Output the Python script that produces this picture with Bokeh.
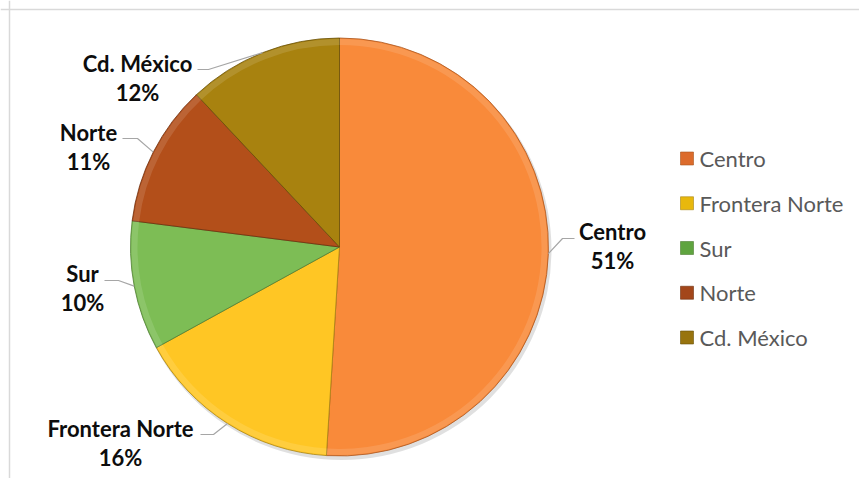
import math
from bokeh.plotting import figure
from bokeh.models import Range1d, Span
from bokeh.core.properties import value
from bokeh.embed import file_html
from bokeh.resources import INLINE

# ---- data ----
categories = ["Centro", "Frontera Norte", "Sur", "Norte", "Cd. México"]
shares = [51, 16, 10, 11, 12]
pct_labels = ["51%", "16%", "10%", "11%", "12%"]

# ---- styles ----
colors = ["#F98A3A", "#FFC624", "#7DBD55", "#B34F1A", "#A8820F"]
edge_colors = ["#A8561F", "#A88414", "#4F7D33", "#6E2F0E", "#6A520A"]
legend_colors = ["#DC6B2C", "#E8B80C", "#5FA43F", "#A3461A", "#98740E"]

W, H = 859, 478
p = figure(width=W, height=H, x_range=Range1d(0, W), y_range=Range1d(0, H),
           output_backend="svg", toolbar_location=None, min_border=0)
p.axis.visible = False
p.grid.visible = False
p.outline_line_color = None
p.background_fill_color = "white"
p.border_fill_color = "white"

def px(xp):
    return xp

def py(yp):
    return H - yp

# chart frame (top and left edges visible)
p.add_layout(Span(location=py(9), dimension="width", line_color="#D9D9D9", line_width=1.5))
p.add_layout(Span(location=px(9), dimension="height", line_color="#D9D9D9", line_width=1.5))

cx, cy, R = px(339), py(246.5), 209
total = sum(shares)
starts, ends, mids = [], [], []
cum = 0
for s in shares:
    a0 = math.pi / 2 - cum / total * 2 * math.pi
    cum += s
    a1 = math.pi / 2 - cum / total * 2 * math.pi
    starts.append(a0)
    ends.append(a1)
    mids.append((a0 + a1) / 2)

# shadow
p.circle(x=[cx + 2], y=[cy - 3], radius=R + 1, fill_color="#000000", fill_alpha=0.12, line_color=None)

p.wedge(x=cx, y=cy, radius=R, start_angle=starts, end_angle=ends, direction="clock",
        fill_color=colors, line_color=edge_colors, line_width=0.8)
# bevel highlight near rim
p.annular_wedge(x=cx, y=cy, inner_radius=R - 7, outer_radius=R - 1, start_angle=starts, end_angle=ends,
                direction="clock", fill_color="#FFFFFF", fill_alpha=0.12, line_color=None)

# ---- data labels with leaders ----
label_centers = [(612, 245), (120, 442.5), (82, 287), (88, 146.5), (137, 77.5)]
leader_elbow = [(562, 238), (213, 434), (118, 280), (137, 138), (208, 69)]
leader_end = [(574, 238), (200, 434), (104, 280), (122, 138), (197, 69)]

for i in range(len(categories)):
    ex = cx + R * math.cos(mids[i])
    ey = cy + R * math.sin(mids[i])
    xs = [ex, px(leader_elbow[i][0]), px(leader_end[i][0])]
    ys = [ey, py(leader_elbow[i][1]), py(leader_end[i][1])]
    p.line(xs, ys, line_color="#A6A6A6", line_width=1.2)

lx = [px(c[0]) for c in label_centers]
p.text(x=lx, y=[py(c[1] - 14.5) for c in label_centers], text=categories,
       text_font=value("Lato"), text_font_style="bold", text_font_size="22px",
       text_color="#0D0D0D", text_align="center", text_baseline="middle")
p.text(x=lx, y=[py(c[1] + 14.5) for c in label_centers], text=pct_labels,
       text_font=value("Lato"), text_font_style="bold", text_font_size="22px",
       text_color="#0D0D0D", text_align="center", text_baseline="middle")

# ---- legend ----
leg_y = [py(158 + i * 44.75) for i in range(len(categories))]
p.scatter(x=[px(686.5)] * len(categories), y=leg_y, marker="square", size=13,
          fill_color=legend_colors, line_color=edge_colors, line_width=0.6)
p.text(x=[px(699)] * len(categories), y=leg_y, text=categories,
       text_font=value("Lato"), text_font_size="22px", text_color="#595959",
       text_align="left", text_baseline="middle")

open("out.html", "w").write(file_html(p, INLINE))
